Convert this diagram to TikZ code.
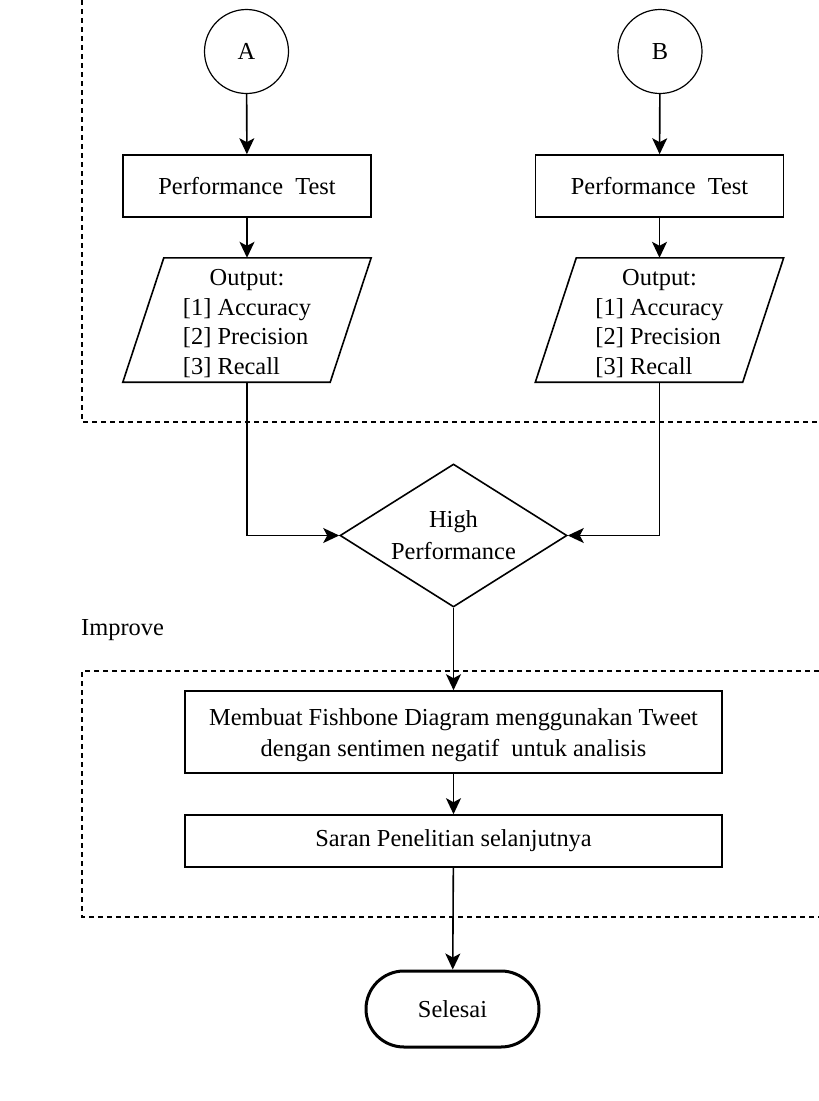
\documentclass[tikz,border=0pt]{standalone}
\usepackage{fontspec}
\setmainfont{Liberation Serif}
\usetikzlibrary{shapes.geometric,arrows.meta}

% three-line result list under a centred heading
\newcommand{\resultlist}{%
  \begin{tabular}{@{}l@{}}
    \multicolumn{1}{@{}c@{}}{Output:}\\
    {}[1] Accuracy\\
    {}[2] Precision\\
    {}[3] Recall
  \end{tabular}}

\begin{document}
\begin{tikzpicture}[x=1pt,y=-1pt,
  every node/.style={font=\fontsize{24.4}{29.5}\selectfont, inner sep=0pt},
  conn/.style={line width=1.6pt, -{Stealth[length=16pt,width=15pt,inset=4pt]}},
  plainline/.style={line width=1.6pt},
  frame/.style={line width=1.2pt, dash pattern=on 5pt off 4pt},
  connector/.style={draw, circle, line width=1.2pt, minimum size=84pt},
  testbox/.style={draw, rectangle, line width=1.6pt, minimum width=248pt, minimum height=62pt},
  iobox/.style={rectangle, minimum width=248pt, minimum height=124pt},
  listtext/.style={font=\fontsize{24.4}{29.5}\selectfont, yshift=-4pt},
  decision/.style={draw, diamond, aspect=1.59, line width=1.6pt, minimum width=227pt,
                   minimum height=143pt, align=center, font=\fontsize{24.4}{32}\selectfont},
  widebox/.style={draw, rectangle, line width=1.6pt, minimum width=537pt},
  boxtext/.style={align=center, font=\fontsize{24.4}{31}\selectfont, yshift=-3pt},
  terminal/.style={draw, rectangle, rounded corners=38pt, line width=3pt,
                   minimum width=173pt, minimum height=76pt}
]
\fill[white] (0,0) rectangle (819,1101);
\useasboundingbox (0,0) rectangle (819,1101);

% dashed swimlane borders
\draw[frame] (82,0) -- (82,422) -- (819,422);
\draw[frame] (819,671) -- (82,671) -- (82,917) -- (819,917);

% left branch
\node[connector] (A) at (246.5,51.5) {A};
\node[testbox] (pA) at (247,186) {Performance~ Test};
\node[iobox] (oA) at (247,320) {};
\node[listtext] (oAtext) at (oA.center) {\resultlist};

% right branch
\node[connector] (B) at (660,51.5) {B};
\node[testbox] (pB) at (659.5,186) {Performance~ Test};
\node[iobox] (oB) at (659.5,320) {};
\node[listtext] (oBtext) at (oB.center) {\resultlist};

% parallelogram outlines of the output boxes
\foreach \n in {oA,oB}
  \draw[plainline] ([xshift=41pt]\n.north west) -- (\n.north east)
    -- ([xshift=-41pt]\n.south east) -- (\n.south west) -- cycle;

% decision and improvement steps
\node[decision] (D) at (453.5,535.5) {High\\Performance};
\node[anchor=west] (imp) at (81,630) {Improve};
\node[widebox, minimum height=82pt] (fish) at (453.5,732) {};
\node[boxtext] (fishtext) at (fish.center)
  {Membuat Fishbone Diagram menggunakan Tweet\\dengan sentimen negatif~ untuk analisis};
\node[widebox, minimum height=52pt] (saran) at (453.5,841) {Saran Penelitian selanjutnya};
\node[terminal] (end) at (452.5,1009) {Selesai};

% connectors
\draw[conn] (A) -- (pA);
\draw[conn] (pA) -- (oA);
\draw[conn] (B) -- (pB);
\draw[conn] (pB) -- (oB);
\draw[conn] (oA.south) |- (D.west);
\draw[conn] (oB.south) |- (D.east);
\draw[conn] (D.south) -- (fish.north);
\draw[conn] (fish) -- (saran);
\draw[conn] (saran) -- (end);
\end{tikzpicture}
\end{document}
